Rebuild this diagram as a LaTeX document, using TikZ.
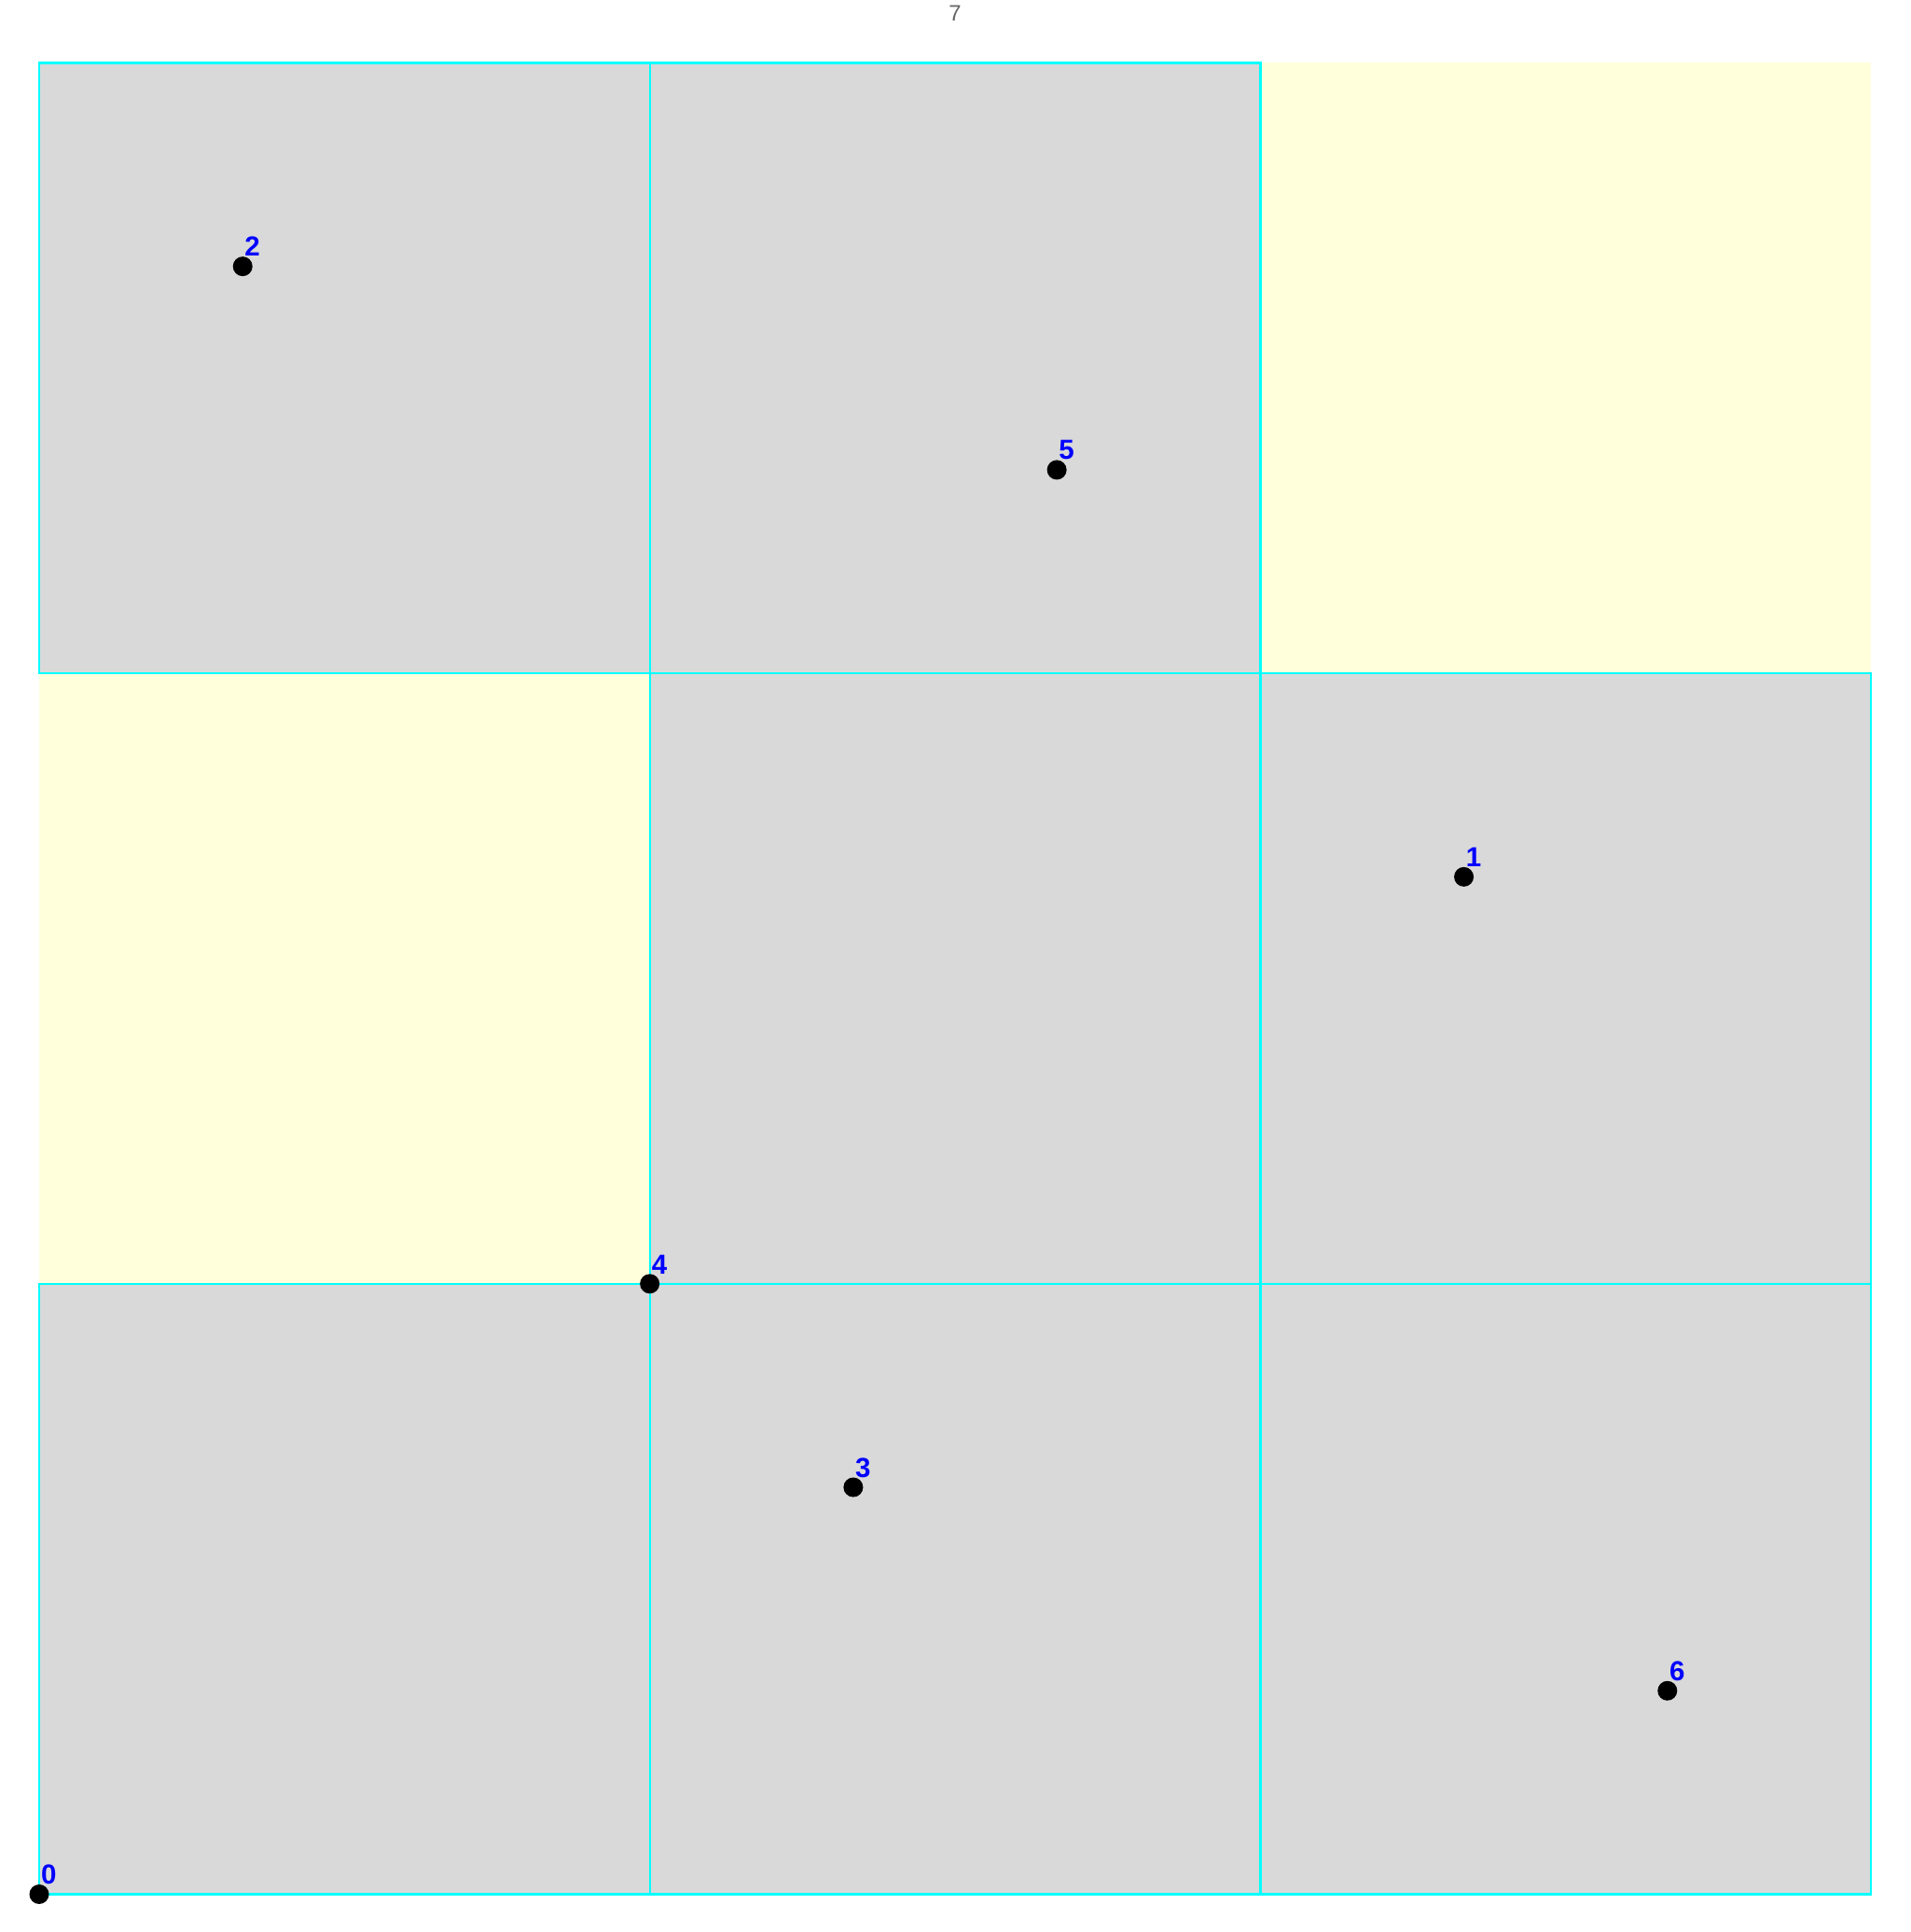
\documentclass[tikz,border=0pt]{standalone}
\usepackage{fontspec}
\setmainfont{Liberation Sans}
\usetikzlibrary{positioning}
\definecolor{cellgray}{HTML}{D9D9D9}
\definecolor{cellempty}{HTML}{FFFFDC}
\definecolor{cellborder}{HTML}{00FFFF}
\definecolor{ptlabel}{HTML}{0000FF}
\definecolor{titlegray}{HTML}{666666}

\begin{document}
\begin{tikzpicture}[
    x=2.1822cm, y=2.1822cm,
    every node/.style={inner sep=0pt},
    fullcell/.style={fill=cellgray, draw=cellborder, line width=0.65pt},
    emptycell/.style={fill=cellempty},
    ptdot/.style={circle, fill=black, minimum size=0.21cm},
    ptnum/.style={font=\fontsize{8.4}{9}\selectfont\bfseries, text=ptlabel, anchor=south west},
    titlelabel/.style={font=\fontsize{6.8}{8}\selectfont, text=titlegray},
]
\useasboundingbox (-0.19247,-0.1856) rectangle (9.19247,9.3093);

% === empty cells ===
\fill[emptycell] (6,6) rectangle (9,9);
\fill[emptycell] (0,3) rectangle (3,6);

% === occupied cells ===
\foreach \cx/\cy in {0/0, 3/0, 6/0, 3/3, 6/3, 0/6, 3/6}
    \draw[fullcell] (\cx,\cy) rectangle ++(3,3);

% === points ===
\foreach \p/\px/\py in {0/0/0, 1/7/5, 2/1/8, 3/4/2, 4/3/3, 5/5/7, 6/8/1} {
    \node[ptdot] (pt\p) at (\px,\py) {};
    \node[ptnum] (lb\p) at ([xshift=0.015cm, yshift=0.1cm]pt\p.center) {\p};
}

% === title ===
\node[titlelabel] (title) at (4.5,9.245) {7};

\end{tikzpicture}
\end{document}
